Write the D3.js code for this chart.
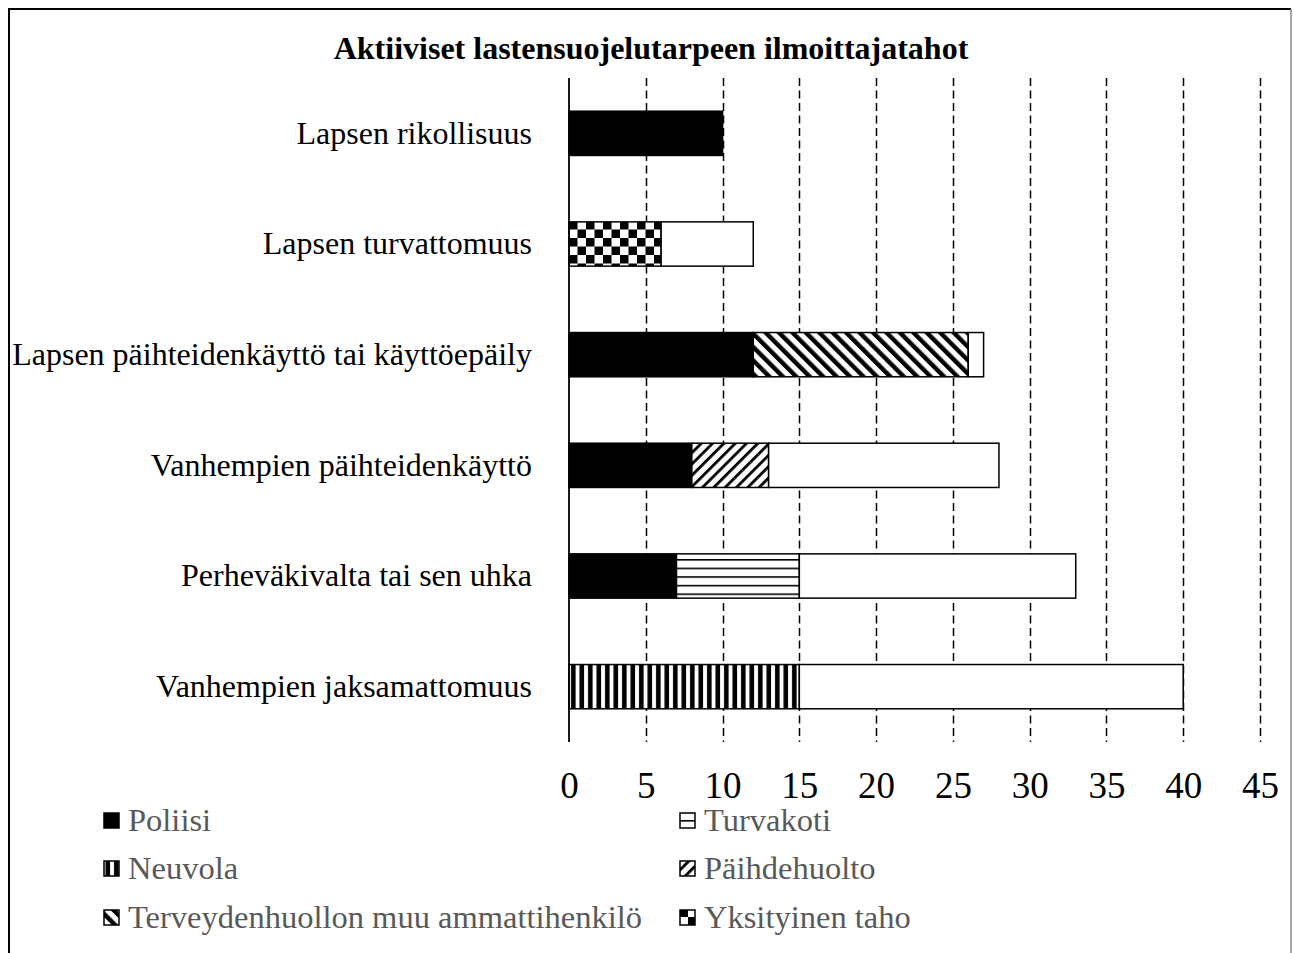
<!DOCTYPE html>
<html>
<head>
<meta charset="utf-8">
<script src="https://cdn.jsdelivr.net/npm/d3@7"></script>
<style>
  body { margin: 0; background: #fff; }
  svg { display: block; font-family: "Liberation Serif", "Times New Roman", serif; }
</style>
</head>
<body>
<div id="chart"></div>
<script>
// categories top -> bottom
let categories = [
  'Lapsen rikollisuus',
  'Lapsen turvattomuus',
  'Lapsen päihteidenkäyttö tai käyttöepäily',
  'Vanhempien päihteidenkäyttö',
  'Perheväkivalta tai sen uhka',
  'Vanhempien jaksamattomuus'
]

let poliisi         = [10, 0, 12, 8, 7, 0]
let turvakoti       = [0, 0, 0, 0, 8, 0]
let neuvola         = [0, 0, 0, 0, 0, 15]
let paihdehuolto    = [0, 0, 0, 5, 0, 0]
let terveydenhuolto = [0, 0, 14, 0, 0, 0]
let yksityinen      = [0, 6, 0, 0, 0, 0]
let muu             = [0, 6, 1, 15, 18, 25]   // white segment, its legend entry is cut off in the original

let seriesNames = ['Poliisi', 'Turvakoti', 'Neuvola', 'Päihdehuolto',
  'Terveydenhuollon muu ammattihenkilö', 'Yksityinen taho', 'Muu']
let xTicks = [0, 5, 10, 15, 20, 25, 30, 35, 40, 45]

let seriesVals = [poliisi, turvakoti, neuvola, paihdehuolto, terveydenhuolto, yksityinen, muu]
let fills = ['#000', 'url(#pHoriz)', 'url(#pVert)', 'url(#pFwd)', 'url(#pBack)', 'url(#pCheck)', '#fff']

let rows = categories.map((c, i) => {
  let o = { cat: c }
  seriesNames.forEach((s, j) => o[s] = seriesVals[j][i])
  return o
})

let W = 1294, H = 953
let plotL = 569, plotR = 1260, plotT = 78, plotB = 742

let svg = d3.select('#chart').append('svg')
  .attr('width', W)
  .attr('height', H)

// patterns
let defs = svg.append('defs')

let ph = defs.append('pattern').attr('id', 'pHoriz').attr('patternUnits', 'userSpaceOnUse')
  .attr('width', 8).attr('height', 8.6)
ph.append('rect').attr('width', 8).attr('height', 8.6).attr('fill', '#fff')
ph.append('rect').attr('y', 0).attr('width', 8).attr('height', 1.6).attr('fill', '#000')

let pv = defs.append('pattern').attr('id', 'pVert').attr('patternUnits', 'userSpaceOnUse')
  .attr('width', 8.5).attr('height', 8).attr('x', plotL)
pv.append('rect').attr('width', 8.5).attr('height', 8).attr('fill', '#fff')
pv.append('rect').attr('x', 2).attr('width', 4.6).attr('height', 8).attr('fill', '#000')

let pf = defs.append('pattern').attr('id', 'pFwd').attr('patternUnits', 'userSpaceOnUse')
  .attr('width', 8).attr('height', 8).attr('patternTransform', 'rotate(45)')
pf.append('rect').attr('width', 8).attr('height', 8).attr('fill', '#fff')
pf.append('rect').attr('width', 2.8).attr('height', 8).attr('fill', '#000')

let pb = defs.append('pattern').attr('id', 'pBack').attr('patternUnits', 'userSpaceOnUse')
  .attr('width', 9.5).attr('height', 9.5).attr('patternTransform', 'rotate(-45)')
pb.append('rect').attr('width', 9.5).attr('height', 9.5).attr('fill', '#fff')
pb.append('rect').attr('width', 4.4).attr('height', 9.5).attr('fill', '#000')

let pc = defs.append('pattern').attr('id', 'pCheck').attr('patternUnits', 'userSpaceOnUse')
  .attr('width', 17).attr('height', 17).attr('x', plotL)
pc.append('rect').attr('width', 17).attr('height', 17).attr('fill', '#fff')
pc.append('rect').attr('width', 8.5).attr('height', 8.5).attr('fill', '#000')
pc.append('rect').attr('x', 8.5).attr('y', 8.5).attr('width', 8.5).attr('height', 8.5).attr('fill', '#000')

// outer frame (bottom edge is outside the picture)
svg.append('path')
  .attr('d', `M9,${H + 5} V9 H1291`)
  .attr('fill', 'none')
  .attr('stroke', '#000')
  .attr('stroke-width', 2)
svg.append('line')
  .attr('x1', 1291).attr('x2', 1291).attr('y1', 9).attr('y2', H)
  .attr('stroke', '#888').attr('stroke-width', 1.5)

// title
svg.append('text')
  .attr('x', 651)
  .attr('y', 59)
  .attr('text-anchor', 'middle')
  .style('font-weight', 'bold')
  .style('font-size', '32px')
  .text('Aktiiviset lastensuojelutarpeen ilmoittajatahot')

let x = d3.scaleLinear().domain([0, 45]).range([plotL, plotR])
let y = d3.scaleBand().domain(categories).range([plotT, plotB]).paddingInner(0.6).paddingOuter(0.3)

// gridlines
svg.append('g')
  .selectAll('line')
  .data(xTicks.filter(d => d > 0))
  .enter().append('line')
  .attr('x1', d => Math.round(x(d)) + 0.5)
  .attr('x2', d => Math.round(x(d)) + 0.5)
  .attr('y1', plotT)
  .attr('y2', plotB)
  .attr('stroke', '#000')
  .attr('stroke-width', 1.5)
  .attr('stroke-dasharray', '8,4.5')

// x tick labels
let xAxis = d3.axisBottom(x).tickValues(xTicks).tickSize(0).tickPadding(0)
let xg = svg.append('g')
  .attr('transform', `translate(0,${plotB})`)
  .call(xAxis)
xg.select('.domain').remove()
xg.selectAll('text')
  .attr('dy', 0)
  .attr('y', 56)
  .style('font-family', '"Liberation Serif", serif')
  .style('font-size', '37px')
  .attr('fill', '#000')

// stacked bars
let stack = d3.stack().keys(seriesNames)
let layers = stack(rows)

svg.append('g')
  .selectAll('g')
  .data(layers)
  .enter().append('g')
  .attr('fill', (d, i) => fills[i])
  .selectAll('rect')
  .data(d => d.filter(v => v[1] - v[0] > 0))
  .enter().append('rect')
  .attr('x', d => x(d[0]))
  .attr('y', d => y(d.data.cat))
  .attr('width', d => x(d[1]) - x(d[0]))
  .attr('height', y.bandwidth())
  .attr('stroke', '#000')
  .attr('stroke-width', 1.5)

// vertical axis line
svg.append('line')
  .attr('x1', plotL).attr('x2', plotL)
  .attr('y1', plotT).attr('y2', plotB)
  .attr('stroke', '#000')
  .attr('stroke-width', 1.8)

// category labels
let yAxis = d3.axisLeft(y).tickSize(0).tickPadding(0)
let yg = svg.append('g')
  .attr('transform', `translate(532,0)`)
  .call(yAxis)
yg.select('.domain').remove()
yg.selectAll('text')
  .style('font-family', '"Liberation Serif", serif')
  .style('font-size', '32px')
  .attr('fill', '#000')
  .attr('dy', '0.32em')

// legend (only the six visible entries)
let legendItems = seriesNames.slice(0, 6).map((s, i) => ({ name: s, fill: fills[i] }))
let legendX = [104, 680]
let legendY = [820, 868, 917]

let lg = svg.append('g')
  .selectAll('g')
  .data(legendItems)
  .enter().append('g')
  .attr('transform', (d, i) => `translate(${legendX[i % 2]},${legendY[Math.floor(i / 2)]})`)

lg.append('rect')
  .attr('x', 0)
  .attr('y', -7)
  .attr('width', 15)
  .attr('height', 15)
  .attr('fill', d => d.fill)
  .attr('stroke', '#000')
  .attr('stroke-width', 1.5)

lg.append('text')
  .attr('x', 24)
  .attr('dy', '0.34em')
  .style('font-size', '32.5px')
  .attr('fill', '#595959')
  .text(d => d.name)
</script>
</body>
</html>
